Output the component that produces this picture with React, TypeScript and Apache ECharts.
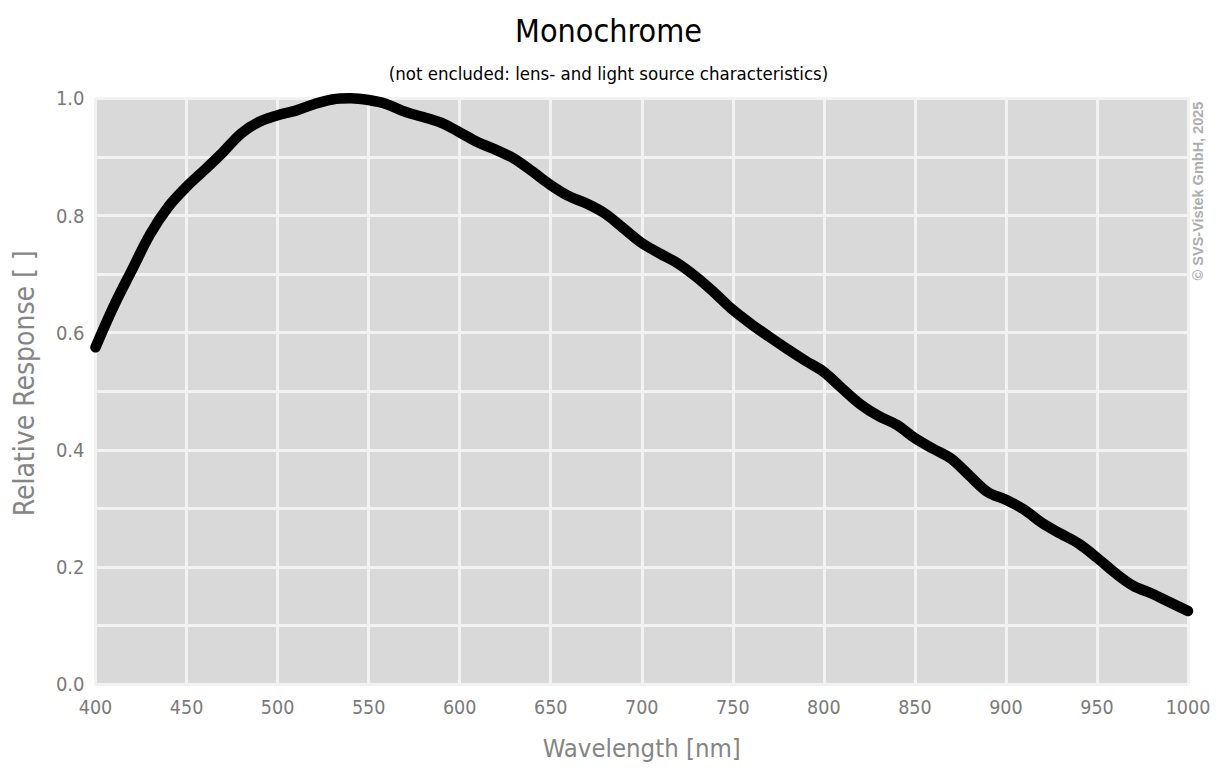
import React, { useEffect, useRef } from "react";
import * as echarts from "echarts";

const wavelengths: number[] = [
  400, 410, 420, 430, 440, 450, 460, 470, 480, 490, 500, 510, 520, 530, 540, 550, 560, 570, 580, 590,
  600, 610, 620, 630, 640, 650, 660, 670, 680, 690, 700, 710, 720, 730, 740, 750, 760, 770, 780, 790,
  800, 810, 820, 830, 840, 850, 860, 870, 880, 890, 900, 910, 920, 930, 940, 950, 960, 970, 980, 990, 1000,
];
const response: number[] = [
  0.575, 0.645, 0.707, 0.768, 0.815, 0.849, 0.878, 0.908, 0.94, 0.96, 0.971, 0.979, 0.99, 0.998, 1.0, 0.997, 0.99, 0.977, 0.968, 0.958,
  0.942, 0.925, 0.912, 0.897, 0.875, 0.852, 0.833, 0.82, 0.803, 0.778, 0.753, 0.735, 0.718, 0.695, 0.668, 0.639, 0.615, 0.593, 0.572, 0.552,
  0.533, 0.505, 0.478, 0.458, 0.443, 0.42, 0.402, 0.385, 0.356, 0.328, 0.315, 0.298, 0.275, 0.257, 0.24, 0.216, 0.19, 0.168, 0.155, 0.14, 0.125,
];

const titleText = "Monochrome";
const subtitleText = "(not encluded: lens- and light source characteristics)";
const xAxisName = "Wavelength [nm]";
const yAxisName = "Relative Response [ ]";
const copyrightText = "© SVS-Vistek GmbH, 2025";

const FONT = "'DejaVu Sans Condensed', 'Liberation Sans Narrow', sans-serif";

export default function App() {
  const ref = useRef<HTMLDivElement>(null);
  useEffect(() => {
    if (!ref.current) return;
    const chart = echarts.init(ref.current, null, { renderer: "svg" });
    const data = wavelengths.map((w, i) => [w, response[i]]);
    chart.setOption({
      animation: false,
      backgroundColor: "#ffffff",
      title: {
        text: titleText,
        subtext: subtitleText,
        left: "center",
        top: 10,
        itemGap: 17,
        textStyle: { fontFamily: FONT, fontSize: 32, fontWeight: "normal", color: "#000000" },
        subtextStyle: { fontFamily: FONT, fontSize: 18.5, color: "#000000" },
      },
      grid: {
        left: 95.5,
        right: 29,
        top: 98.3,
        bottom: 89.7,
        show: true,
        backgroundColor: "#d9d9d9",
        borderWidth: 0,
      },
      xAxis: {
        type: "value",
        min: 400,
        max: 1000,
        interval: 50,
        name: xAxisName,
        nameLocation: "middle",
        nameGap: 51,
        nameTextStyle: { fontFamily: FONT, fontSize: 25.5, color: "#858585" },
        axisLine: { show: false },
        axisTick: { show: false },
        axisLabel: {
          fontFamily: FONT,
          fontSize: 19.5,
          color: "#7a7a7a",
          margin: 13,
          formatter: (v: number) => String(v),
        },
        splitLine: { show: true, lineStyle: { color: "#f2f2f2", width: 3 } },
      },
      yAxis: {
        type: "value",
        min: 0,
        max: 1,
        interval: 0.1,
        name: yAxisName,
        nameLocation: "middle",
        nameRotate: 90,
        nameGap: 57,
        nameTextStyle: { fontFamily: FONT, fontSize: 28, color: "#858585", padding: [0, 0, 0, 16] },
        axisLine: { show: false },
        axisTick: { show: false },
        axisLabel: {
          fontFamily: FONT,
          fontSize: 20,
          color: "#7a7a7a",
          margin: 11,
          formatter: (v: number) => (Math.round(v * 10) % 2 === 0 ? v.toFixed(1) : ""),
        },
        splitLine: { show: true, lineStyle: { color: "#f2f2f2", width: 3 } },
      },
      series: [
        {
          type: "line",
          data,
          showSymbol: false,
          smooth: 0.35,
          clip: true,
          lineStyle: { color: "#000000", width: 10.5, cap: "round", join: "round" },
        },
      ],
      graphic: [
        {
          type: "text",
          x: 1198,
          y: 191,
          rotation: Math.PI / 2,
          style: {
            text: copyrightText,
            fontFamily: "'Liberation Sans', Arial, sans-serif",
            fontSize: 14.5,
            fontWeight: "bold",
            fill: "#adadad",
            align: "center",
            verticalAlign: "middle",
          },
        },
      ],
    });
    return () => chart.dispose();
  }, []);
  return <div ref={ref} style={{ position: "fixed", left: 0, top: 0, width: 1217, height: 774 }} />;
}
